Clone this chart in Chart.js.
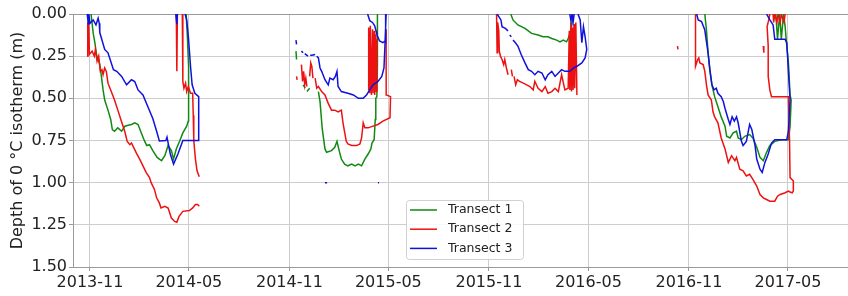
<!DOCTYPE html>
<html>
<head>
<meta charset="utf-8">
<script src="https://cdn.jsdelivr.net/npm/chart.js@4.4.1/dist/chart.umd.min.js"></script>
<style>
  html, body { margin: 0; padding: 0; background: #fff; }
  #chart { display: block; }
</style>
</head>
<body>
<canvas id="chart" width="848" height="296"></canvas>
<script>
// x axis range and tick positions (first day of month)
const xRange = ['2013-10-01', '2017-08-19'];
const xTickDates = ['2013-11-01', '2014-05-01', '2014-11-01', '2015-05-01',
  '2015-11-01', '2016-05-01', '2016-11-01', '2017-05-01'];

const seriesNames = ['Transect 1', 'Transect 2', 'Transect 3'];
const seriesColors = ['#118a11', '#ee1111', '#1111dd'];

// [date, depth of 0 °C isotherm in m]; depth null = gap in the record
const transect1 = [
  ['2013-11-03', 0.00], ['2013-11-07', 0.115], ['2013-11-10', 0.17], ['2013-11-13', 0.24],
  ['2013-11-16', 0.27], ['2013-11-19', 0.30], ['2013-11-22', 0.37], ['2013-11-25', 0.45],
  ['2013-11-28', 0.51], ['2013-12-04', 0.57], ['2013-12-09', 0.625], ['2013-12-12', 0.685],
  ['2013-12-16', 0.695], ['2013-12-22', 0.675], ['2013-12-29', 0.695], ['2014-01-04', 0.665],
  ['2014-01-10', 0.66], ['2014-01-16', 0.655], ['2014-01-22', 0.645], ['2014-01-28', 0.655],
  ['2014-02-03', 0.705], ['2014-02-09', 0.754], ['2014-02-13', 0.78], ['2014-02-18', 0.775],
  ['2014-02-24', 0.81], ['2014-03-04', 0.85], ['2014-03-12', 0.87], ['2014-03-18', 0.84],
  ['2014-03-24', 0.78], ['2014-03-30', 0.81], ['2014-04-03', 0.86], ['2014-04-08', 0.80],
  ['2014-04-14', 0.754], ['2014-04-20', 0.705], ['2014-04-27', 0.665], ['2014-04-30', 0.635],
  ['2014-05-01', 0.49], ['2014-04-30', 0.31], ['2014-04-28', 0.115], ['2014-04-26', 0.00],
  ['2014-06-01', null],
  ['2014-11-13', 0.22], ['2014-11-14', 0.27], ['2014-11-15', null],
  ['2014-11-26', 0.42], ['2014-11-30', 0.44], ['2014-12-01', null],
  ['2014-12-03', 0.46], ['2014-12-08', 0.44], ['2014-12-09', null],
  ['2014-12-24', 0.46], ['2014-12-27', 0.52], ['2014-12-31', 0.68], ['2015-01-05', 0.80],
  ['2015-01-08', 0.82], ['2015-01-17', 0.81], ['2015-01-23', 0.79], ['2015-01-27', 0.755],
  ['2015-01-31', 0.81], ['2015-02-04', 0.86], ['2015-02-10', 0.89], ['2015-02-16', 0.90],
  ['2015-02-23', 0.89], ['2015-03-01', 0.90], ['2015-03-07', 0.89], ['2015-03-13', 0.90],
  ['2015-03-19', 0.86], ['2015-03-25', 0.83], ['2015-03-30', 0.80], ['2015-04-01', 0.765],
  ['2015-04-05', 0.745], ['2015-04-07', 0.625], ['2015-04-08', 0.50], ['2015-04-10', 0.49],
  ['2015-04-11', 0.30], ['2015-04-11', 0.00],
  ['2015-06-01', null],
  ['2015-12-11', 0.00], ['2015-12-15', 0.035], ['2015-12-24', 0.065], ['2016-01-06', 0.085],
  ['2016-01-18', 0.115], ['2016-01-30', 0.125], ['2016-02-08', 0.135], ['2016-02-17', 0.135],
  ['2016-02-24', 0.145], ['2016-03-04', 0.155], ['2016-03-10', 0.165], ['2016-03-16', 0.155],
  ['2016-03-22', 0.165], ['2016-03-25', 0.145], ['2016-03-30', 0.10], ['2016-04-03', 0.00],
  ['2016-06-01', null],
  ['2016-11-30', 0.00], ['2016-12-03', 0.095], ['2016-12-06', 0.23], ['2016-12-09', 0.33],
  ['2016-12-13', 0.42], ['2016-12-18', 0.49], ['2016-12-24', 0.55], ['2016-12-30', 0.61],
  ['2017-01-06', 0.665], ['2017-01-09', 0.725], ['2017-01-15', 0.735], ['2017-01-21', 0.705],
  ['2017-01-27', 0.695], ['2017-01-30', 0.735], ['2017-02-05', 0.745], ['2017-02-11', 0.725],
  ['2017-02-20', 0.715], ['2017-02-26', 0.735], ['2017-03-05', 0.79], ['2017-03-11', 0.85],
  ['2017-03-17', 0.87], ['2017-03-23', 0.82], ['2017-03-29', 0.78], ['2017-04-07', 0.755],
  ['2017-04-19', 0.745], ['2017-05-02', 0.745], ['2017-05-05', 0.665], ['2017-05-07', 0.51],
  ['2017-05-05', 0.48], ['2017-05-02', 0.29], ['2017-04-28', 0.155], ['2017-04-26', 0.075],
  ['2017-04-23', 0.00], ['2017-04-19', 0.15], ['2017-04-16', 0.00], ['2017-04-12', 0.15],
  ['2017-04-09', 0.00]
];

const transect2 = [
  ['2013-10-27', 0.25], ['2013-10-28', 0.06], ['2013-10-30', 0.07], ['2013-10-31', 0.24],
  ['2013-11-05', 0.22], ['2013-11-09', 0.25], ['2013-11-11', 0.21], ['2013-11-14', 0.28],
  ['2013-11-17', 0.25], ['2013-11-20', 0.34], ['2013-11-23', 0.33], ['2013-11-25', 0.36],
  ['2013-11-28', 0.32], ['2013-12-01', 0.34], ['2013-12-04', 0.41], ['2013-12-10', 0.46],
  ['2013-12-16', 0.51], ['2013-12-22', 0.57], ['2013-12-29', 0.64], ['2014-01-04', 0.70],
  ['2014-01-08', 0.754], ['2014-01-13', 0.775], ['2014-01-16', 0.765], ['2014-01-19', 0.785],
  ['2014-01-25', 0.825], ['2014-01-31', 0.86], ['2014-02-06', 0.90], ['2014-02-12', 0.94],
  ['2014-02-18', 0.97], ['2014-02-21', 1.00], ['2014-02-27', 1.04], ['2014-03-03', 1.09],
  ['2014-03-08', 1.12], ['2014-03-11', 1.15], ['2014-03-18', 1.14], ['2014-03-24', 1.15],
  ['2014-03-30', 1.21], ['2014-04-05', 1.23], ['2014-04-09', 1.235], ['2014-04-13', 1.20],
  ['2014-04-20', 1.17], ['2014-05-02', 1.165], ['2014-05-08', 1.15], ['2014-05-13', 1.13],
  ['2014-05-17', 1.13], ['2014-05-20', 1.14],
  ['2014-05-21', null],
  ['2014-04-08', 0.00], ['2014-04-09', 0.34], ['2014-04-10', 0.00], ['2014-04-11', null],
  ['2014-04-19', 0.00], ['2014-04-20', 0.40], ['2014-04-22', 0.44], ['2014-04-25', 0.41],
  ['2014-04-27', 0.46], ['2014-04-30', 0.43], ['2014-05-04', 0.47], ['2014-05-08', 0.47],
  ['2014-05-09', 0.60], ['2014-05-10', 0.75], ['2014-05-13', 0.86], ['2014-05-16', 0.93],
  ['2014-05-20', 0.965],
  ['2014-06-01', null],
  ['2014-11-14', 0.37], ['2014-11-15', 0.39], ['2014-11-16', null],
  ['2014-11-23', 0.30], ['2014-11-25', 0.40], ['2014-11-27', 0.34], ['2014-11-29', 0.42],
  ['2014-12-01', 0.38], ['2014-12-03', 0.43], ['2014-12-04', null],
  ['2014-12-08', 0.37], ['2014-12-10', 0.29], ['2014-12-12', 0.31], ['2014-12-14', 0.38],
  ['2014-12-15', null],
  ['2014-12-18', 0.38], ['2014-12-21', 0.44], ['2014-12-24', 0.43], ['2014-12-30', 0.46],
  ['2015-01-05', 0.48], ['2015-01-11', 0.53], ['2015-01-17', 0.57], ['2015-01-23', 0.57],
  ['2015-01-29', 0.58], ['2015-02-04', 0.57], ['2015-02-07', 0.645], ['2015-02-10', 0.70],
  ['2015-02-13', 0.755], ['2015-02-16', 0.77], ['2015-02-23', 0.78], ['2015-03-04', 0.78],
  ['2015-03-10', 0.77], ['2015-03-13', 0.735], ['2015-03-16', 0.645], ['2015-03-19', 0.675],
  ['2015-03-25', 0.675], ['2015-04-03', 0.665], ['2015-04-12', 0.655], ['2015-04-21', 0.635],
  ['2015-05-04', 0.615], ['2015-05-05', 0.49], ['2015-04-28', 0.48], ['2015-04-27', 0.09],
  ['2015-05-06', null],
  ['2015-03-25', 0.45], ['2015-03-26', 0.08], ['2015-03-28', 0.47], ['2015-03-29', 0.07],
  ['2015-03-31', 0.48], ['2015-04-02', 0.09], ['2015-04-03', 0.47], ['2015-04-05', 0.10],
  ['2015-04-06', 0.48], ['2015-04-08', 0.12], ['2015-04-09', 0.46], ['2015-04-10', 0.15],
  ['2015-06-01', null],
  ['2015-11-15', 0.00], ['2015-11-16', 0.23], ['2015-11-17', 0.05], ['2015-11-19', 0.10],
  ['2015-11-20', 0.22], ['2015-11-22', 0.25], ['2015-11-25', 0.27], ['2015-11-28', 0.30],
  ['2015-11-30', 0.27], ['2015-12-03', 0.32], ['2015-12-06', 0.36], ['2015-12-07', null],
  ['2015-12-12', 0.33], ['2015-12-14', 0.37], ['2015-12-15', null],
  ['2015-12-17', 0.37], ['2015-12-20', 0.42], ['2015-12-23', 0.39], ['2015-12-27', 0.40],
  ['2016-01-03', 0.41], ['2016-01-09', 0.42], ['2016-01-15', 0.43], ['2016-01-21', 0.45],
  ['2016-01-24', 0.40], ['2016-01-30', 0.44], ['2016-02-06', 0.46], ['2016-02-12', 0.43],
  ['2016-02-17', 0.47], ['2016-02-24', 0.46], ['2016-03-01', 0.44], ['2016-03-07', 0.46],
  ['2016-03-13', 0.36], ['2016-03-19', 0.45], ['2016-03-25', 0.44], ['2016-03-27', 0.10],
  ['2016-03-28', 0.45], ['2016-03-30', 0.05], ['2016-03-31', 0.46], ['2016-04-02', 0.08],
  ['2016-04-03', 0.45], ['2016-04-05', 0.06], ['2016-04-06', 0.44], ['2016-04-08', 0.05],
  ['2016-04-10', 0.48],
  ['2016-06-01', null],
  ['2016-10-11', 0.19], ['2016-10-12', 0.21], ['2016-10-13', null],
  ['2016-11-13', 0.00], ['2016-11-13', 0.31], ['2016-11-17', 0.27], ['2016-11-19', 0.26],
  ['2016-11-21', 0.29], ['2016-11-27', 0.30], ['2016-11-30', 0.34], ['2016-12-03', 0.42],
  ['2016-12-06', 0.48], ['2016-12-12', 0.51], ['2016-12-15', 0.58], ['2016-12-18', 0.61],
  ['2016-12-24', 0.645], ['2016-12-30', 0.735], ['2017-01-06', 0.80], ['2017-01-12', 0.88],
  ['2017-01-18', 0.84], ['2017-01-24', 0.87], ['2017-01-27', 0.85], ['2017-02-02', 0.92],
  ['2017-02-08', 0.93], ['2017-02-14', 0.96], ['2017-02-20', 0.95], ['2017-02-26', 0.98],
  ['2017-03-05', 1.02], ['2017-03-11', 1.07], ['2017-03-17', 1.09], ['2017-03-23', 1.10],
  ['2017-03-29', 1.11], ['2017-04-07', 1.11], ['2017-04-12', 1.08], ['2017-04-17', 1.07],
  ['2017-04-26', 1.06], ['2017-05-02', 1.05], ['2017-05-05', 1.055], ['2017-05-09', 1.06],
  ['2017-05-11', 1.05], ['2017-05-11', 0.99], ['2017-05-05', 0.97], ['2017-05-04', 0.745],
  ['2017-05-02', 0.49], ['2017-04-01', 0.49], ['2017-03-29', 0.45], ['2017-03-26', 0.37],
  ['2017-03-26', 0.19], ['2017-03-24', 0.075], ['2017-03-27', 0.035], ['2017-03-29', 0.00],
  ['2017-05-12', null],
  ['2017-03-17', 0.19], ['2017-03-18', 0.23], ['2017-03-19', null],
  ['2017-04-04', 0.00], ['2017-04-05', 0.05], ['2017-04-07', 0.00], ['2017-04-11', 0.05],
  ['2017-04-13', 0.00], ['2017-04-17', 0.05], ['2017-04-19', 0.00], ['2017-04-24', 0.05],
  ['2017-04-26', 0.00]
];

const transect3 = [
  ['2013-10-27', 0.00], ['2013-10-29', 0.06], ['2013-10-30', 0.00], ['2013-11-01', 0.055],
  ['2013-11-07', 0.035], ['2013-11-12', 0.065], ['2013-11-16', 0.025], ['2013-11-18', 0.055],
  ['2013-11-19', 0.11], ['2013-11-28', 0.21], ['2013-12-04', 0.23], ['2013-12-14', 0.33],
  ['2013-12-20', 0.34], ['2013-12-29', 0.37], ['2014-01-07', 0.42], ['2014-01-16', 0.39],
  ['2014-01-22', 0.40], ['2014-01-28', 0.45], ['2014-02-06', 0.48], ['2014-02-15', 0.55],
  ['2014-02-24', 0.62], ['2014-03-03', 0.695], ['2014-03-08', 0.753], ['2014-03-20', 0.75],
  ['2014-03-22', 0.73], ['2014-03-28', 0.83], ['2014-04-03', 0.89], ['2014-04-11', 0.83],
  ['2014-04-20', 0.75], ['2014-05-18', 0.75], ['2014-05-19', 0.49], ['2014-05-12', 0.47],
  ['2014-05-07', 0.42], ['2014-05-04', 0.31], ['2014-04-30', 0.13], ['2014-04-27', 0.035],
  ['2014-04-24', 0.00], ['2014-05-20', null],
  ['2014-04-07', 0.00], ['2014-04-09', 0.06], ['2014-04-10', 0.00],
  ['2014-06-01', null],
  ['2014-11-13', 0.155], ['2014-11-14', 0.18], ['2014-11-15', null],
  ['2014-11-23', 0.22], ['2014-11-26', 0.23], ['2014-11-27', null],
  ['2014-11-29', 0.235], ['2014-12-05', 0.25], ['2014-12-06', null],
  ['2014-12-09', 0.245], ['2014-12-12', 0.245], ['2014-12-18', 0.24], ['2014-12-19', null],
  ['2014-12-21', 0.25], ['2014-12-24', 0.26], ['2014-12-27', 0.32], ['2014-12-30', 0.34],
  ['2015-01-05', 0.39], ['2015-01-11', 0.42], ['2015-01-14', 0.38], ['2015-01-20', 0.39],
  ['2015-01-24', 0.37], ['2015-01-27', 0.34], ['2015-01-29', 0.43], ['2015-02-04', 0.46],
  ['2015-02-16', 0.47], ['2015-02-26', 0.48], ['2015-03-07', 0.50], ['2015-03-16', 0.50],
  ['2015-03-22', 0.48], ['2015-03-28', 0.45], ['2015-04-03', 0.42], ['2015-04-12', 0.40],
  ['2015-04-19', 0.37], ['2015-04-23', 0.32], ['2015-04-25', 0.17], ['2015-04-26', 0.00],
  ['2015-04-27', null],
  ['2015-03-24', 0.00], ['2015-03-28', 0.04], ['2015-04-02', 0.05], ['2015-04-06', 0.07],
  ['2015-04-11', 0.13], ['2015-04-15', 0.16], ['2015-04-21', 0.17], ['2015-04-25', 0.16],
  ['2015-04-27', 0.00], ['2015-04-28', null],
  ['2015-01-05', 1.00], ['2015-01-09', 1.00], ['2015-01-10', null],
  ['2015-04-12', 1.00], ['2015-04-14', 1.00],
  ['2015-06-01', null],
  ['2015-11-16', 0.00], ['2015-11-23', 0.035], ['2015-11-25', 0.075], ['2015-12-01', 0.085],
  ['2015-12-06', 0.10], ['2015-12-07', null],
  ['2015-12-09', 0.125], ['2015-12-12', 0.135], ['2015-12-13', null],
  ['2015-12-15', 0.155], ['2015-12-18', 0.165], ['2015-12-24', 0.19], ['2015-12-30', 0.24],
  ['2016-01-06', 0.29], ['2016-01-12', 0.33], ['2016-01-18', 0.34], ['2016-01-24', 0.36],
  ['2016-01-30', 0.34], ['2016-02-06', 0.35], ['2016-02-12', 0.39], ['2016-02-17', 0.36],
  ['2016-02-24', 0.34], ['2016-03-01', 0.37], ['2016-03-07', 0.35], ['2016-03-13', 0.33],
  ['2016-03-19', 0.34], ['2016-03-28', 0.34], ['2016-04-04', 0.32], ['2016-04-10', 0.31],
  ['2016-04-19', 0.29], ['2016-04-25', 0.26], ['2016-04-28', 0.21], ['2016-04-25', 0.135],
  ['2016-04-22', 0.075], ['2016-04-19', 0.17], ['2016-04-16', 0.035], ['2016-04-12', 0.00],
  ['2016-04-29', null],
  ['2016-03-28', 0.00], ['2016-03-30', 0.04], ['2016-04-01', 0.00], ['2016-04-03', 0.05],
  ['2016-04-05', 0.00],
  ['2016-06-01', null],
  ['2016-11-15', 0.00], ['2016-11-18', 0.035], ['2016-11-24', 0.045], ['2016-11-30', 0.095],
  ['2016-12-06', 0.23], ['2016-12-09', 0.32], ['2016-12-13', 0.42], ['2016-12-17', 0.45],
  ['2016-12-21', 0.44], ['2016-12-24', 0.47], ['2016-12-30', 0.49], ['2017-01-03', 0.52],
  ['2017-01-06', 0.56], ['2017-01-12', 0.625], ['2017-01-15', 0.655], ['2017-01-19', 0.61],
  ['2017-01-23', 0.635], ['2017-01-27', 0.61], ['2017-01-30', 0.645], ['2017-02-05', 0.755],
  ['2017-02-08', 0.78], ['2017-02-14', 0.755], ['2017-02-20', 0.655], ['2017-02-24', 0.685],
  ['2017-03-02', 0.78], ['2017-03-05', 0.86], ['2017-03-11', 0.92], ['2017-03-15', 0.94],
  ['2017-03-20', 0.88], ['2017-03-26', 0.83], ['2017-04-01', 0.765], ['2017-04-07', 0.745],
  ['2017-04-29', 0.745], ['2017-05-02', 0.695], ['2017-05-05', 0.51], ['2017-04-29', 0.17],
  ['2017-04-26', 0.15], ['2017-04-07', 0.15], ['2017-04-04', 0.065], ['2017-03-29', 0.035],
  ['2017-03-23', 0.00]
];

const FONT = 'DejaVu Sans';
const TEXT = '#222222';
const GRID = '#cdcdcd';
const SPINE = '#9a9a9a';

function toPoints(rows) {
  return rows.map(([d, v]) => ({ x: Date.parse(d), y: v }));
}

function monthLabel(ms) {
  const d = new Date(ms);
  return d.getUTCFullYear() + '-' + String(d.getUTCMonth() + 1).padStart(2, '0');
}

// legend drawn inside the plot, lower centre
const insideLegend = {
  id: 'insideLegend',
  afterDraw(chart) {
    const ctx = chart.ctx;
    const box = { x: 406.5, y: 200.5, w: 117, h: 59 };
    ctx.save();
    ctx.beginPath();
    ctx.roundRect(box.x, box.y, box.w, box.h, 3);
    ctx.fillStyle = 'rgba(255,255,255,0.85)';
    ctx.fill();
    ctx.strokeStyle = '#d0d0d0';
    ctx.lineWidth = 1;
    ctx.stroke();
    ctx.font = '12.5px "' + FONT + '"';
    ctx.textBaseline = 'middle';
    chart.data.datasets.forEach((ds, i) => {
      const y = 210 + i * 19.2;
      ctx.strokeStyle = ds.borderColor;
      ctx.lineWidth = 1.5;
      ctx.beginPath();
      ctx.moveTo(410, y);
      ctx.lineTo(437, y);
      ctx.stroke();
      ctx.fillStyle = TEXT;
      ctx.fillText(ds.label, 448, y);
    });
    ctx.restore();
  }
};

const datasets = [transect1, transect2, transect3].map((rows, i) => ({
  label: seriesNames[i],
  data: toPoints(rows),
  borderColor: seriesColors[i],
  backgroundColor: seriesColors[i],
  borderWidth: 1.5,
  pointRadius: 0,
  tension: 0,
  spanGaps: false,
  order: 3 - i
}));

const chart = new Chart(document.getElementById('chart'), {
  type: 'line',
  data: { datasets },
  options: {
    responsive: false,
    animation: false,
    layout: { padding: { top: 14, right: 0, bottom: 0, left: 0 } },
    plugins: {
      legend: { display: false },
      tooltip: { enabled: false }
    },
    scales: {
      x: {
        type: 'linear',
        min: Date.parse(xRange[0]),
        max: Date.parse(xRange[1]),
        afterBuildTicks: (scale) => {
          scale.ticks = xTickDates.map(d => ({ value: Date.parse(d) }));
        },
        afterFit: (scale) => { scale.height = 29; },
        ticks: {
          autoSkip: false,
          maxRotation: 0,
          padding: 2,
          color: TEXT,
          font: { family: FONT, size: 16 },
          callback: (v) => monthLabel(v)
        },
        grid: { color: GRID, lineWidth: 1, tickLength: 4, tickColor: SPINE },
        border: { color: SPINE, width: 1 }
      },
      y: {
        reverse: true,
        min: 0,
        max: 1.5,
        afterFit: (scale) => { scale.width = 73; },
        ticks: {
          stepSize: 0.25,
          padding: 2,
          color: TEXT,
          font: { family: FONT, size: 16 },
          callback: (v) => v.toFixed(2)
        },
        grid: {
          color: (c) => (c.tick && c.tick.value === 0 ? SPINE : GRID),
          lineWidth: 1,
          tickLength: 4,
          tickColor: SPINE
        },
        border: { color: SPINE, width: 1 },
        title: {
          display: true,
          text: 'Depth of 0 °C isotherm (m)',
          color: TEXT,
          font: { family: FONT, size: 16 },
          padding: { top: 8, bottom: 0 }
        }
      }
    }
  },
  plugins: [insideLegend]
});
</script>
</body>
</html>
